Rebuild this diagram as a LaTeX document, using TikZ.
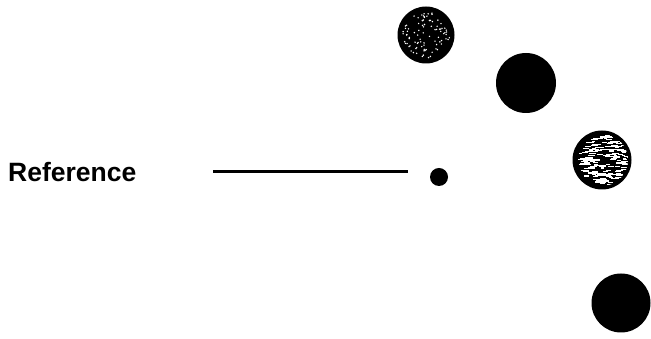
\documentclass[tikz,border=0pt]{standalone}
\usepackage{fontspec}
\setmainfont{Liberation Sans}
\usetikzlibrary{positioning}

\begin{document}
\begin{tikzpicture}[
    x=1pt, y=1pt,
    ball/.style={circle, fill=black, inner sep=0pt, minimum size=#1},
    lbl/.style={inner sep=0pt, anchor=base west, font=\fontsize{26.5}{30}\selectfont\bfseries}
]
\useasboundingbox (0,0) rectangle (651,339);

% Reference label and line
\node[lbl] (ref) at (8,157) {Reference};
\node[ball=18pt] (dot) at (439,162) {};
\coordinate (lineA) at (213,167);
\coordinate (lineB) at (408,167);
\draw[line width=3pt] (lineA) -- (lineB);

% Balls
\node[ball=57pt] (b1) at (426,304) {};
\node[ball=60pt] (b2) at (526,256) {};
\node[ball=59pt] (b3) at (602,179) {};
\node[ball=59pt] (b4) at (621,36) {};

% speckled texture on b1
\pgfmathsetseed{4321}
\begin{scope}
  \clip (b1.center) circle (24pt);
  \foreach \i in {1,...,90}
    \fill[white] ([shift={({rnd*360}:{sqrt(rnd)*24})}]b1.center) circle (0.8pt);
\end{scope}

% streaky texture on b3
\begin{scope}
  \clip (b3.center) circle (26pt);
  \foreach \i in {1,...,170}
    \fill[white] ([shift={({rnd*360}:{sqrt(rnd)*26})}]b3.center) rectangle ++({3+rnd*5},1.2);
\end{scope}

\end{tikzpicture}
\end{document}
